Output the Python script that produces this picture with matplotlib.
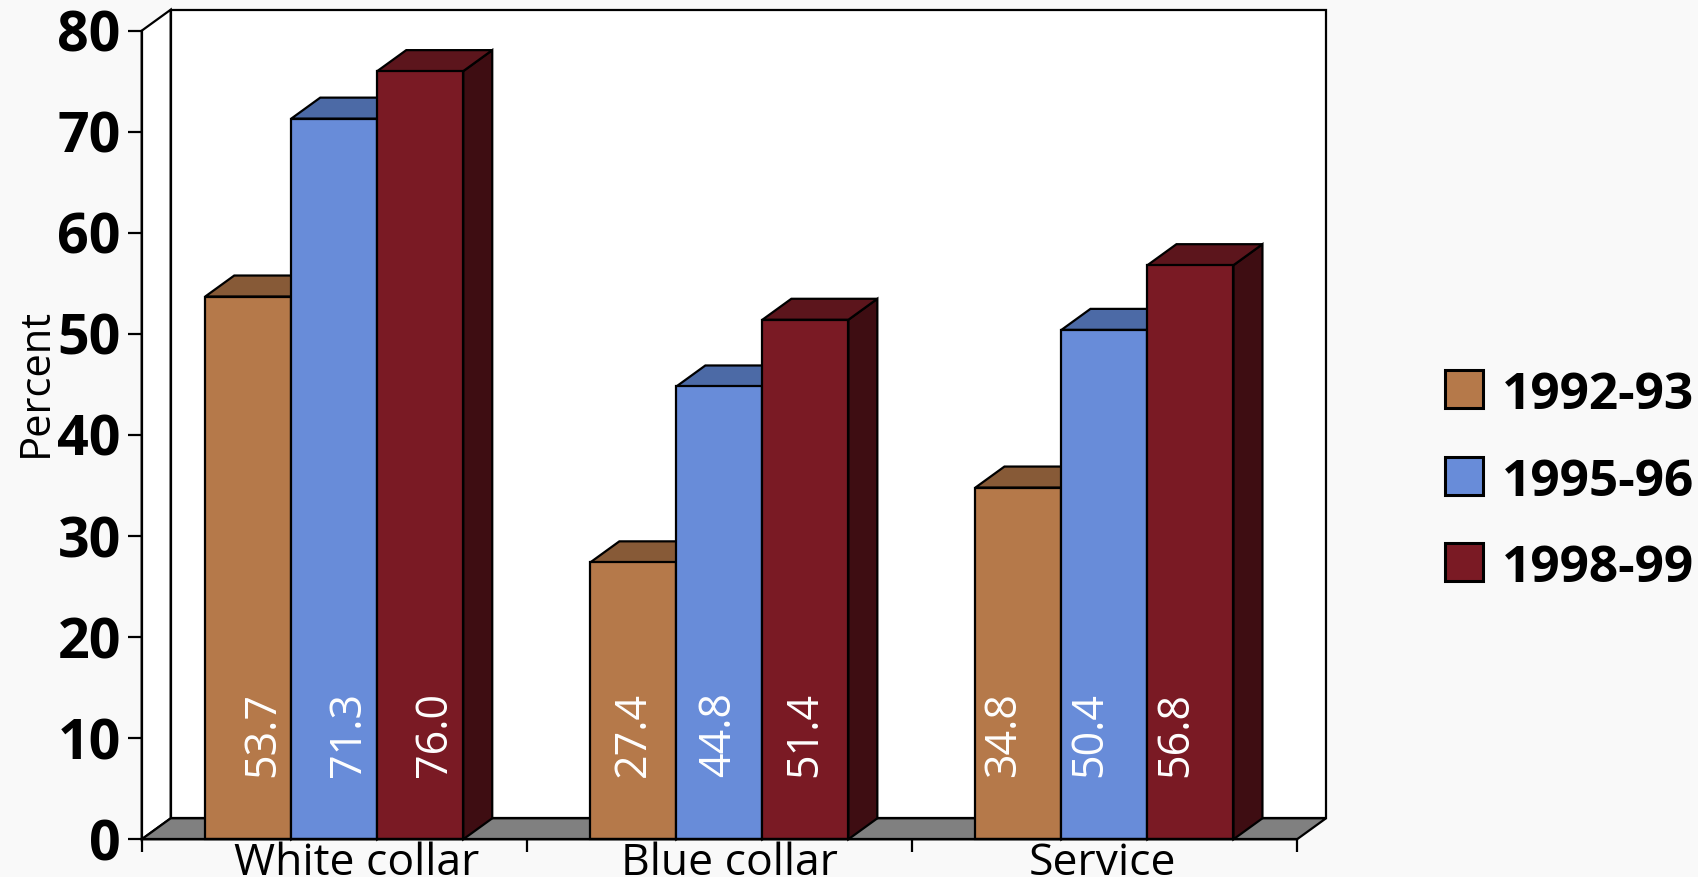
import matplotlib
matplotlib.use('Agg')
import matplotlib.pyplot as plt
from matplotlib.patches import Polygon, Rectangle

plt.rcParams['font.family'] = ['Open Sans', 'DejaVu Sans']

categories = ['White collar', 'Blue collar', 'Service']
periods = ['1992-93', '1995-96', '1998-99']
share_1992 = [53.7, 27.4, 34.8]
share_1995 = [71.3, 44.8, 50.4]
share_1998 = [76.0, 51.4, 56.8]
y_ticks = [0, 10, 20, 30, 40, 50, 60, 70, 80]
series = [share_1992, share_1995, share_1998]

# front, top and side shades for each period
faces = [('#b5794a', '#875a37', '#5a3c25'),
         ('#688cd9', '#4c6aa6', '#34466e'),
         ('#7a1a24', '#5c151c', '#3e0d12')]

W, H = 1698, 877
BG = '#f9f9f9'
LW = 1.6

fig = plt.figure(figsize=(W / 100, H / 100), dpi=100, facecolor=BG)

# axes box in pixels (front plane of the 3d box)
left_px, right_px, top_px, bottom_px = 141.7, 1297.0, 30.7, 839.3
ax = fig.add_axes([left_px / W, 1 - bottom_px / H,
                   (right_px - left_px) / W, (bottom_px - top_px) / H])
ncat = len(categories)
ymax = 80
ax.set_xlim(0, ncat)
ax.set_ylim(0, ymax)
ax.patch.set_visible(False)

px_x = (right_px - left_px) / ncat
px_y = (bottom_px - top_px) / ymax
# depth of the box, pixels -> data units
ddx = 29 / px_x
ddy = 21 / px_y

# left wall, back wall, floor
ax.add_patch(Polygon([(0, 0), (0, ymax), (ddx, ymax + ddy), (ddx, ddy)],
                     facecolor='white', edgecolor='black', lw=LW, zorder=1, clip_on=False))
ax.add_patch(Rectangle((ddx, ddy), ncat, ymax, facecolor='white', edgecolor='black',
                       lw=LW, zorder=1, clip_on=False))
ax.add_patch(Polygon([(0, 0), (ncat, 0), (ncat + ddx, ddy), (ddx, ddy)],
                     facecolor='#808080', edgecolor='black', lw=LW, zorder=2, clip_on=False))

bar_w = 86 / px_x
z = 3
for i in range(ncat):
    for j, vals in enumerate(series):
        h = vals[i]
        x0 = i + 0.5 - 1.5 * bar_w + j * bar_w
        x1 = x0 + bar_w
        front, top, side = faces[j]
        ax.add_patch(Polygon([(x1, 0), (x1 + ddx, ddy), (x1 + ddx, h + ddy), (x1, h)],
                             facecolor=side, edgecolor='black', lw=LW, zorder=z, clip_on=False))
        ax.add_patch(Polygon([(x0, h), (x1, h), (x1 + ddx, h + ddy), (x0 + ddx, h + ddy)],
                             facecolor=top, edgecolor='black', lw=LW, zorder=z, clip_on=False))
        ax.add_patch(Rectangle((x0, 0), bar_w, h, facecolor=front, edgecolor='black',
                               lw=LW, zorder=z + 0.5, clip_on=False))
        z += 1
        # value written up the bar, near its foot
        shift = (1 - i) * 14.5 / px_x
        ax.text((x0 + x1) / 2 + shift, 6.2, f'{h:.1f}', rotation=90,
                rotation_mode='anchor', ha='left', va='center', color='white',
                fontsize=31, zorder=50)

# axes lines and ticks
for s in ['top', 'right']:
    ax.spines[s].set_visible(False)
ax.spines['left'].set_linewidth(LW)
ax.spines['bottom'].set_linewidth(LW)
ax.spines['left'].set_zorder(40)
ax.spines['bottom'].set_zorder(40)
ax.set_yticks(y_ticks)
ax.set_yticklabels([str(t) for t in y_ticks], fontsize=40, fontweight='bold')
ax.tick_params(axis='y', length=10, width=LW, pad=5)
ax.set_xticks(range(ncat + 1))
ax.set_xticklabels([])
ax.tick_params(axis='x', length=9.4, width=LW)

for i, name in enumerate(categories):
    shift = 10 + (1 - i) * 12.5
    fig.text((left_px + (i + 0.5) * px_x + shift) / W, 1 - 875 / H, name,
             ha='center', va='baseline', fontsize=32)

fig.text(47 / W, 1 - 382 / H, 'Percent', rotation=90, rotation_mode='anchor',
         ha='center', va='baseline', fontsize=30)

# legend
for j, label in enumerate(periods):
    cy = 389 + j * 86.5
    fig.patches.append(Rectangle((1445 / W, 1 - (cy + 19) / H), 38 / W, 38 / H,
                                 transform=fig.transFigure, facecolor=faces[j][0],
                                 edgecolor='black', lw=2.2))
    fig.text(1502 / W, 1 - (cy + 20) / H, label, ha='left', va='baseline',
             fontsize=37, fontweight='bold')

fig.savefig('out.png', dpi=100, facecolor=BG)
